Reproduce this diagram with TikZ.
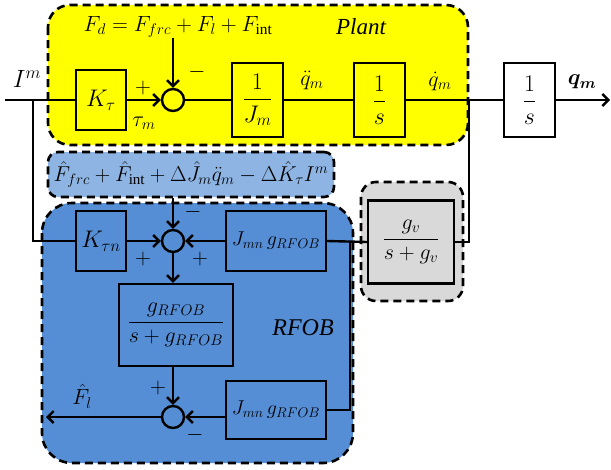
\documentclass[tikz,border=0pt]{standalone}
\usepackage{fix-cm}
\usepackage{amsmath,bm}
\usepackage{fontspec}
\setmainfont{Liberation Serif}
\usetikzlibrary{arrows.meta}
\definecolor{plantY}{RGB}{255,255,0}
\definecolor{lightB}{RGB}{141,180,226}
\definecolor{darkB}{RGB}{85,142,213}
\definecolor{grayF}{RGB}{217,217,217}
\newcommand{\lfnt}{\fontsize{22}{24}\selectfont}
\begin{document}
\begin{tikzpicture}[x=1pt,y=-1pt,
  lbl/.style={inner sep=0},
  blk/.style={draw, line width=2.4pt, inner sep=0},
  sumc/.style={draw, circle, line width=2.4pt, minimum size=22pt, inner sep=0},
  region/.style={draw, line width=2.6pt, dash pattern=on 8pt off 5pt},
  wire/.style={line width=2.4pt},
  arr/.style={wire, -{Straight Barb[length=6pt,width=12pt]}}]
\useasboundingbox (0,0) rectangle (611,469);
% regions
\draw[region, fill=plantY, rounded corners=22pt] (48,5) rectangle (468,145);
\node[region, fill=lightB, rounded corners=10pt, minimum width=286pt, minimum height=45pt, inner sep=0] (lb) at (191,174.5)
  {\fontsize{21.5}{23}\selectfont$\hat F_{frc}+\hat F_{\mathrm{int}}+\Delta\hat J_m\ddot q_m-\Delta\hat K_\tau I^m$};
\draw[region, fill=darkB, rounded corners=30pt] (42,203) rectangle (353,463);
\draw[region, fill=grayF, rounded corners=15pt] (361,182) rectangle (463,301);
% plant row
\node[blk, minimum width=50pt, minimum height=60pt] (Kt) at (101,100) {\fontsize{24}{26}\selectfont$K_\tau$};
\node[sumc] (s1) at (173,100) {};
\node[blk, minimum width=51pt, minimum height=74pt] (Jm) at (257.5,100) {\fontsize{24}{26}\selectfont$\dfrac{1}{J_m}$};
\node[blk, minimum width=51pt, minimum height=74pt] (S1) at (379.5,100) {\fontsize{24}{26}\selectfont$\dfrac{1}{s}$};
\node[blk, minimum width=51pt, minimum height=74pt] (S2) at (529.5,100) {\fontsize{24}{26}\selectfont$\dfrac{1}{s}$};
\node[lbl] (Fd) at (178,27) {\lfnt$F_d=F_{frc}+F_l+F_{\mathrm{int}}$};
\node[lbl] (plant) at (361,27) {\fontsize{23}{24}\selectfont\itshape Plant};
\node[lbl] (Im) at (27,79) {\fontsize{25}{26}\selectfont$I^m$};
\node[lbl] (p1) at (143,88) {\lfnt$+$};
\node[lbl] (tau) at (144,123) {\lfnt$\tau_m$};
\node[lbl] (m1) at (197,72) {\lfnt$-$};
\node[lbl] (qdd) at (312,80) {\lfnt$\ddot q_m$};
\node[lbl] (qd) at (440,81) {\lfnt$\dot q_m$};
\node[lbl] (q) at (582,82) {\lfnt$\bm{q_m}$};
\coordinate (in) at (5,100);
\coordinate (br) at (33,100);
\coordinate (brd) at (33,241);
\coordinate (jn) at (469,100);
\coordinate (out) at (610,100);
% observer
\node[blk, fill=darkB, minimum width=50pt, minimum height=60pt] (Ktn) at (101,241) {\fontsize{24}{26}\selectfont$K_{\tau n}$};
\node[sumc] (s2) at (173,241) {};
\node[blk, fill=darkB, minimum width=100pt, minimum height=60pt] (Jmn1) at (276,241) {\fontsize{20}{22}\selectfont$J_{mn}\,g_{RFOB}$};
\node[blk, fill=grayF, minimum width=86pt, minimum height=83pt] (gv) at (411,242) {\fontsize{22}{24}\selectfont$\dfrac{g_v}{s+g_v}$};
\node[blk, fill=darkB, minimum width=114pt, minimum height=82pt] (gR) at (176,325) {\fontsize{22}{24}\selectfont$\dfrac{g_{RFOB}}{s+g_{RFOB}}$};
\node[sumc] (s3) at (173,417) {};
\node[blk, fill=darkB, minimum width=100pt, minimum height=58pt] (Jmn2) at (276,410) {\fontsize{20}{22}\selectfont$J_{mn}\,g_{RFOB}$};
\node[lbl] (m2) at (193,212) {\lfnt$-$};
\node[lbl] (p2) at (143,259) {\lfnt$+$};
\node[lbl] (p3) at (200,259) {\lfnt$+$};
\node[lbl] (p4) at (158,388) {\lfnt$+$};
\node[lbl] (m3) at (195,435) {\lfnt$-$};
\node[lbl] (Fl) at (82,396) {\lfnt$\hat F_l$};
\node[lbl] (rfob) at (303,328) {\fontsize{24}{26}\selectfont\itshape RFOB};
\coordinate (c1) at (350,241);
\coordinate (outF) at (46,417);
% wires
\draw[wire] (in) -- (Kt.west);
\draw[wire] (br) -- (brd) -- (Ktn.west);
\draw[arr] (Kt.east) -- (s1.west);
\draw[arr] (Fd.south -| s1) -- (s1.north);
\draw[wire] (s1.east) -- (Jm.west);
\draw[wire] (Jm.east) -- (S1.west);
\draw[wire] (S1.east) -- (S2.west);
\draw[arr] (S2.east) -- (out);
\draw[wire] (jn) |- (gv.east);
\draw[wire] (gv.west) -- (Jmn1.east);
\draw[wire] (Jmn2.east) -| (c1);
\draw[arr] (Ktn.east) -- (s2.west);
\draw[arr] (Jmn1.west) -- (s2.east);
\draw[arr] (lb.south -| s2) -- (s2.north);
\draw[arr] (s2.south) -- (gR.north -| s2);
\draw[arr] (gR.south -| s3) -- (s3.north);
\draw[arr] (s3 -| Jmn2.west) -- (s3.east);
\draw[arr] (s3.west) -- (outF);
\end{tikzpicture}
\end{document}
